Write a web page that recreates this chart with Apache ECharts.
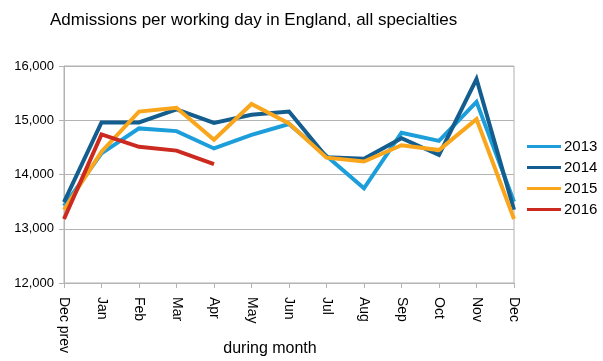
<!DOCTYPE html>
<html>
<head>
<meta charset="utf-8">
<script src="https://cdn.jsdelivr.net/npm/echarts@6/dist/echarts.min.js"></script>
<style>
html,body{margin:0;padding:0;background:#fff;}
#chart{width:603px;height:361px;}
</style>
</head>
<body>
<div id="chart"></div>
<script>
var titleText = 'Admissions per working day in England, all specialties';
var xAxisName = 'during month';
var categories = ['Dec prev','Jan','Feb','Mar','Apr','May','Jun','Jul','Aug','Sep','Oct','Nov','Dec'];
var seriesNames = ['2013','2014','2015','2016'];
var s2013 = [13420, 14390, 14850, 14800, 14480, 14730, 14930, 14340, 13745, 14770, 14620, 15340, 13500];
var s2014 = [13490, 14960, 14960, 15200, 14950, 15100, 15160, 14320, 14290, 14670, 14360, 15760, 13350];
var s2015 = [13350, 14420, 15160, 15230, 14640, 15300, 14940, 14310, 14240, 14540, 14450, 15020, 13180];
var s2016 = [13180, 14740, 14510, 14440, 14190];
var colors = ['#1b9ed9', '#135d8f', '#f9a61c', '#cc2a1f'];

var FONT = 'Liberation Sans, Arial, Helvetica, sans-serif';
var chart = echarts.init(document.getElementById('chart'), null, {renderer:'canvas'});
var dataSets = [s2013, s2014, s2015, s2016];
chart.setOption({
  animation: false,
  color: colors,
  title: {
    text: titleText,
    left: 45, top: 7,
    textStyle: {fontFamily: FONT, fontSize: 17, fontWeight: 'normal', color: '#000'}
  },
  legend: {
    orient: 'vertical',
    left: 522, top: 134,
    icon: 'rect',
    itemWidth: 34, itemHeight: 3,
    itemGap: 6,
    data: seriesNames,
    textStyle: {fontFamily: FONT, fontSize: 15, color: '#000', lineHeight: 15, padding: [0,0,0,-2]}
  },
  grid: {
    left: 64, right: 89, top: 66, bottom: 78,
    show: true, borderColor: '#b3b3b3', borderWidth: 1,
    containLabel: false,
    outerBoundsMode: 'none'
  },
  xAxis: {
    type: 'category',
    boundaryGap: false,
    data: categories,
    name: xAxisName,
    nameLocation: 'middle',
    nameGap: 58,
    nameMoveOverlap: false,
    nameTextStyle: {fontFamily: FONT, fontSize: 16, color: '#000', padding: [0, 38, 0, 0]},
    axisLine: {lineStyle: {color: '#b3b3b3', width: 1}},
    axisTick: {show: true, length: 5, alignWithLabel: true, lineStyle: {color: '#b3b3b3'}},
    axisLabel: {rotate: -90, margin: 14, fontFamily: FONT, fontSize: 14, color: '#000'},
    splitLine: {show: false}
  },
  yAxis: {
    type: 'value',
    min: 12000, max: 16000, interval: 1000,
    axisLine: {show: true, lineStyle: {color: '#b3b3b3', width: 1}},
    axisTick: {show: true, length: 5, lineStyle: {color: '#b3b3b3'}},
    axisLabel: {
      margin: 10, fontFamily: FONT, fontSize: 13, color: '#000',
      formatter: function(v){ return v.toLocaleString('en-US'); }
    },
    splitLine: {show: true, lineStyle: {color: '#b3b3b3', width: 1}}
  },
  series: seriesNames.map(function(n, i){
    return {
      name: n,
      type: 'line',
      data: dataSets[i],
      showSymbol: false,
      symbol: 'none',
      lineStyle: {width: 4, color: colors[i], join: 'miter'},
      itemStyle: {color: colors[i]}
    };
  })
});
</script>
</body>
</html>
